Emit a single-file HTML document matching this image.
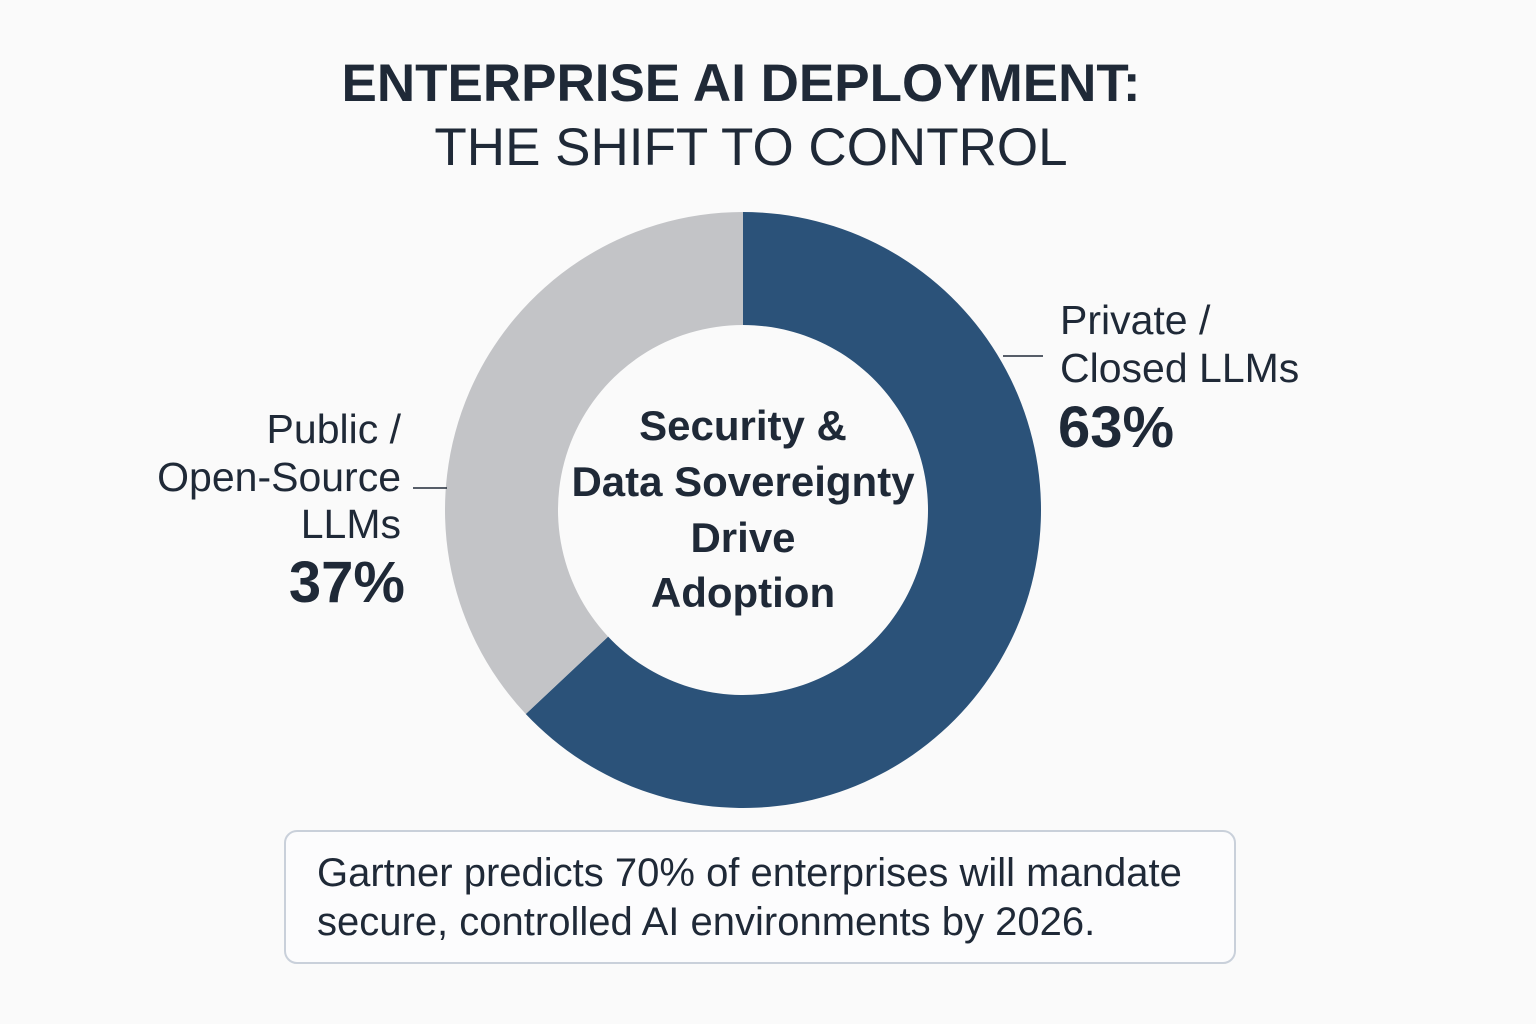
<!DOCTYPE html>
<html><head><meta charset="utf-8"><style>
html,body{margin:0;padding:0;background:#fafafa;width:1536px;height:1024px;overflow:hidden;font-family:"Liberation Sans",sans-serif;color:#1f2937}
</style></head><body>
<svg width="1536" height="1024" viewBox="0 0 1536 1024">
<text x="741" y="101" text-anchor="middle" font-size="53" font-weight="bold" fill="#1f2937">ENTERPRISE AI DEPLOYMENT:</text>
<text x="751" y="165" text-anchor="middle" font-size="53" fill="#1f2937">THE SHIFT TO CONTROL</text>
<g id="slices"></g>
<text text-anchor="middle" font-size="42" font-weight="bold" fill="#1f2937">
<tspan x="743" y="440">Security &amp;</tspan><tspan x="743" y="496">Data Sovereignty</tspan><tspan x="743" y="552">Drive</tspan><tspan x="743" y="607">Adoption</tspan></text>
<line x1="1003" y1="356" x2="1043" y2="356" stroke="#1f2937" stroke-width="1.5"/>
<text font-size="41" fill="#1f2937"><tspan x="1060" y="334">Private /</tspan><tspan x="1060" y="382">Closed LLMs</tspan></text>
<text x="1058" y="447" font-size="58" font-weight="bold" fill="#1f2937" id="v0"></text>
<line x1="413" y1="488" x2="447" y2="488" stroke="#1f2937" stroke-width="1.5"/>
<text font-size="41" fill="#1f2937" text-anchor="end"><tspan x="401" y="443">Public /</tspan><tspan x="401" y="491">Open-Source</tspan><tspan x="401" y="538">LLMs</tspan></text>
<text x="405" y="602" font-size="58" font-weight="bold" fill="#1f2937" text-anchor="end" id="v1"></text>
<rect x="285" y="831" width="950" height="132" rx="12" fill="#fcfcfd" stroke="#c9d0da" stroke-width="2"/>
<text font-size="40" fill="#1f2937"><tspan x="317" y="886">Gartner predicts 70% of enterprises will mandate</tspan><tspan x="317" y="935">secure, controlled AI environments by 2026.</tspan></text>
</svg>
<script>
const categories=["Private / Closed LLMs","Public / Open-Source LLMs"];
const values=[63,37];
const colors=["#2b5279","#c3c4c7"];
const cx=743,cy=510,R=298,r=185;
const g=document.getElementById('slices');
const total=values.reduce((a,b)=>a+b,0);
function pt(a,rad){return [cx+rad*Math.sin(a),cy-rad*Math.cos(a)];}
let a0=0;
values.forEach((v,i)=>{
  const a1=a0+v/total*2*Math.PI;
  const large=(a1-a0)>Math.PI?1:0;
  const [x0,y0]=pt(a0,R),[x1,y1]=pt(a1,R),[x2,y2]=pt(a1,r),[x3,y3]=pt(a0,r);
  const p=document.createElementNS('http://www.w3.org/2000/svg','path');
  p.setAttribute('d',`M${x0},${y0}A${R},${R} 0 ${large} 1 ${x1},${y1}L${x2},${y2}A${r},${r} 0 ${large} 0 ${x3},${y3}Z`);
  p.setAttribute('fill',colors[i]);
  
  
  g.appendChild(p);
  document.getElementById('v'+i).textContent=values[i]+'%';
  a0=a1;
});
</script>
</body></html>
